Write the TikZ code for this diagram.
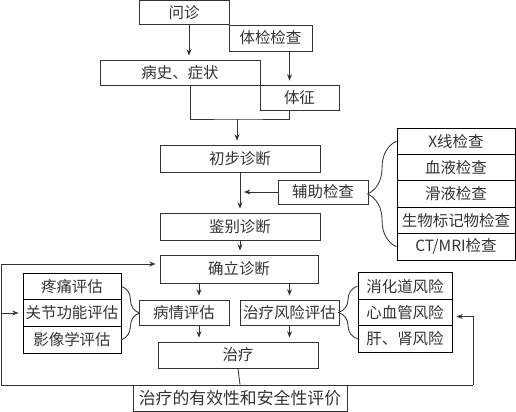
\documentclass[tikz,border=0pt]{standalone}
\usepackage{fontspec}
\setmainfont{Noto Sans CJK SC}
\usetikzlibrary{arrows.meta,decorations.pathreplacing}

\begin{document}
\begin{tikzpicture}[x=0.025cm, y=-0.025cm, line width=0.6pt, color=black!80,
		font=\fontsize{11}{13}\selectfont, >={Stealth[length=4.5pt,width=3.5pt]},
		box/.style={draw, inner sep=0pt, minimum width=#1},
		arr/.style={->, shorten >=1mm}]
	\useasboundingbox (0,0) rectangle (516,412);
	\node (wz) [box=2.25cm, minimum height=0.6cm] at (184,12.5) {问诊};
	\node (tj) [box=2.075cm, minimum height=0.65cm] at (270.5,38) {体检检查};
	\node (bs) [box=4cm, minimum height=0.625cm] at (180,72.5) {病史、症状};
	\node (tz) [box=1.975cm, minimum height=0.625cm] at (299.5,97.5) {体征};
	\node (cb) [box=4cm, minimum height=0.675cm] at (240,158.5) {初步诊断};
	\node (fz) [box=2.25cm, minimum height=0.6cm] at (323,192) {辅助检查};
	\node (jb) [box=4cm, minimum height=0.675cm] at (240,226.5) {鉴别诊断};
	\node (ql) [box=3.95cm, minimum height=0.7cm] at (239,269) {确立诊断};
	\node (bq) [box=2.25cm, minimum height=0.625cm] at (184,312.5) {病情评估};
	\node (fx) [box=2.475cm, minimum height=0.625cm] at (289.5,312.5) {治疗风险评估};
	\node (zl) [box=4cm, minimum height=0.65cm] at (238,355) {治疗};
	\node (pj) [box=5.35cm, minimum height=0.65cm, font=\fontsize{12}{14}\selectfont] at (240,398) {治疗的有效性和安全性评价};
	\matrix (aux) at (456,194) [row sep=-0.6pt, nodes={box=2.95cm, minimum height=0.66cm}] {
		\node (xr) {X线检查}; \\
		\node (blood) {血液检查}; \\
		\node (syn) {滑液检查}; \\
		\node (bio) {生物标记物检查}; \\
		\node (ct) {CT/MRI检查}; \\
	};
	\matrix (ev) at (72,313) [row sep=-0.6pt, nodes={box=2.45cm, minimum height=0.667cm}] {
		\node (pain) {疼痛评估}; \\
		\node (joint) {关节功能评估}; \\
		\node (img) {影像学评估}; \\
	};
	\matrix (rk) at (405,312.5) [row sep=-0.6pt, nodes={box=2.35cm, minimum height=0.66cm}] {
		\node (gi) {消化道风险}; \\
		\node (cv) {心血管风险}; \\
		\node (lk) {肝、肾风险}; \\
	};
	\coordinate (m1) at (237,119);
	\coordinate (lp) at (1,385);
	\coordinate (rp) at (473,385);
	\draw [arr] ([xshift=0.125cm]wz.south) -- ([xshift=0.125cm]wz.south |- bs.north);
	\draw [arr] ([xshift=0.475cm]tj.south) -- ([xshift=0.475cm]tj.south |- tz.north);
	\draw ([xshift=0.25cm]bs.south) |- (m1) -| ([xshift=-0.2625cm]tz.south);
	\draw [arr] (m1) -- (m1 |- cb.north);
	\draw [arr] (cb.south) -- (jb.north);
	\draw [arr] (fz.west) -- (fz.west -| cb.south);
	\draw [arr] (jb.south) -- (jb.south |- ql.north);
	\draw [arr] ([xshift=-1cm]ql.south) -- ([xshift=-1cm]ql.south |- bq.north);
	\draw [arr] (ql.south -| fx.north) -- (fx.north);
	\draw [arr] ([xshift=0.375cm]bq.south) -- ([xshift=0.375cm]bq.south |- zl.north);
	\draw [arr] (fx.south) -- (fx.south |- zl.north);
	\draw (zl.south) -- (pj.north);
	\draw [arr] (rp) -- (lp) |- ([yshift=0.125cm]ql.west);
	\draw [arr] (lp |- joint.west) -- (joint.west);
	\draw [arr] (rp) |- ([yshift=-0.1cm]cv.east);
	\draw [decorate, decoration={brace, amplitude=0.45cm}] (pain.east) -- (img.east);
	\draw [decorate, decoration={brace, mirror, amplitude=0.725cm}] (xr.west) -- (ct.west);
	\draw [decorate, decoration={brace, mirror, amplitude=0.475cm}] (gi.west) -- (lk.west);
\end{tikzpicture}
\end{document}
